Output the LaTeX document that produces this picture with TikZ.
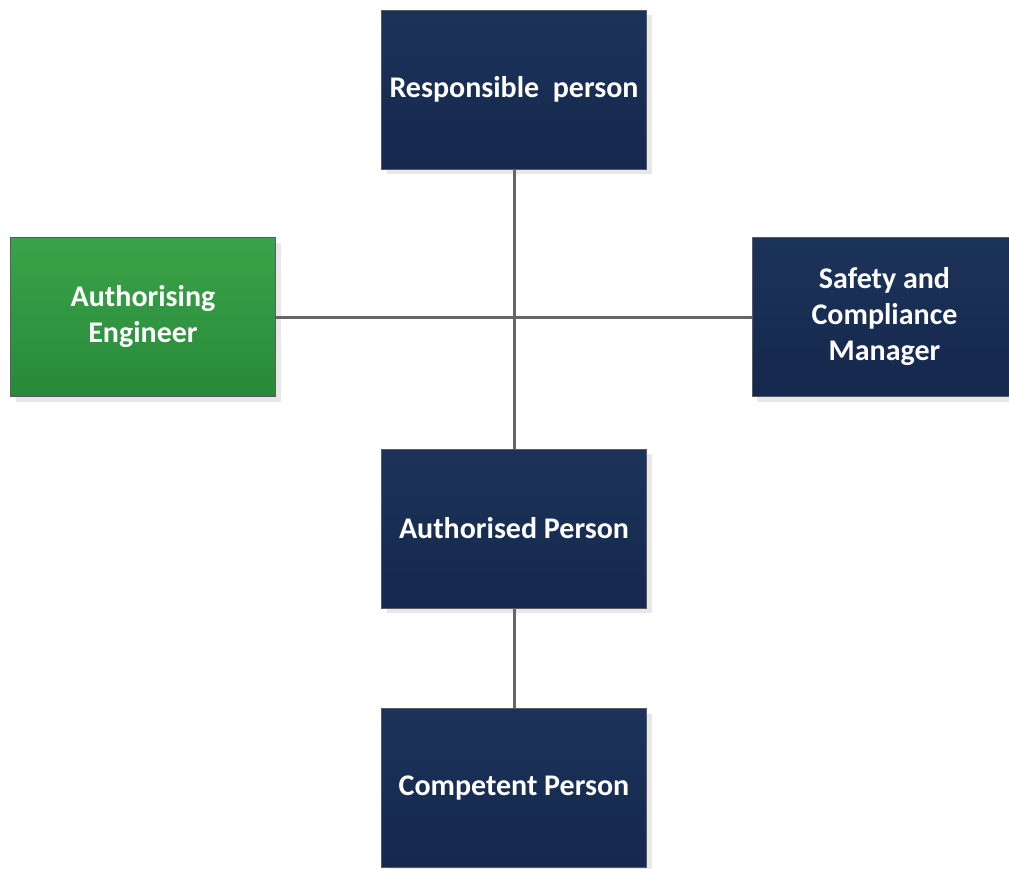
\documentclass[tikz,border=0pt]{standalone}
\usepackage{fontspec}
\setmainfont{Carlito}
\usetikzlibrary{shadows}
\definecolor{navyT}{RGB}{28,51,89}
\definecolor{navyB}{RGB}{21,40,77}
\definecolor{greenT}{RGB}{58,163,73}
\definecolor{greenB}{RGB}{40,137,57}
\definecolor{edge}{RGB}{90,90,95}
\definecolor{conn}{RGB}{102,102,102}
\definecolor{shadowc}{RGB}{232,232,234}
\tikzset{
  box/.style={rectangle, minimum width=265pt, minimum height=159pt, inner sep=0pt,
    draw=edge, line width=0.8pt, text=white, align=center,
    font=\fontsize{30}{36}\selectfont\bfseries,
    drop shadow={shadow xshift=5pt, shadow yshift=-5pt, fill=shadowc, opacity=1}},
  navybox/.style={box, top color=navyT, bottom color=navyB},
  greenbox/.style={box, top color=greenT, bottom color=greenB},
  link/.style={draw=conn, line width=3pt}
}
\begin{document}
\begin{tikzpicture}[x=1pt,y=-1pt]
\useasboundingbox[clip] (0,0) rectangle (1009,868);
\node[navybox] (rp) at (514,89.5) {Responsible\ \ person};
\node[greenbox] (ae) at (143,317) {Authorising\\Engineer};
\node[navybox] (sc) at (884.5,317) {Safety and\\Compliance\\Manager};
\node[navybox] (ap) at (514,528.5) {Authorised Person};
\node[navybox] (cp) at (514,788) {Competent Person};
\draw[link] (rp.south) -- (ap.north);
\draw[link] (ae.east) -- (sc.west);
\draw[link] (ap.south) -- (cp.north);
\end{tikzpicture}
\end{document}
